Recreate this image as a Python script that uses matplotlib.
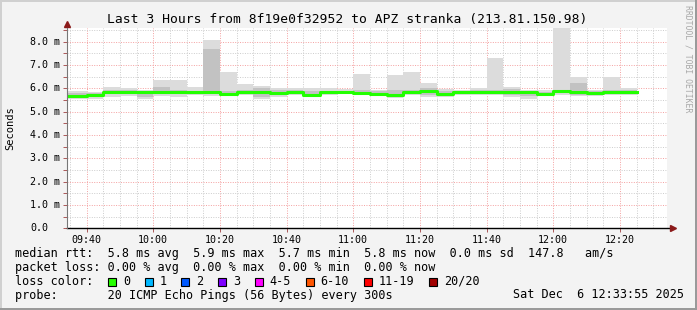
import numpy as np
import matplotlib
matplotlib.use("Agg")
import matplotlib.pyplot as plt
from matplotlib.patches import Rectangle
from matplotlib.ticker import MultipleLocator, FuncFormatter

# bar start times (minutes after midnight), 5 min step, 09:35 .. 12:20
start = 9 * 60 + 35
times = start + 5 * np.arange(34)

# median rtt per 5 min (ms)
median = [5.69, 5.74, 5.84, 5.85, 5.84, 5.85, 5.85, 5.84, 5.84, 5.78,
          5.84, 5.83, 5.81, 5.84, 5.71, 5.83, 5.84, 5.82, 5.77, 5.73,
          5.84, 5.88, 5.78, 5.83, 5.83, 5.83, 5.83, 5.83, 5.78, 5.88,
          5.84, 5.80, 5.83, 5.84]
# smoke: min / max of the pings
smoke_lo = [5.55, 5.55, 5.65, 5.69, 5.54, 5.68, 5.65, 5.70, 5.69, 5.70,
            5.74, 5.55, 5.65, 5.72, 5.66, 5.72, 5.75, 5.70, 5.70, 5.60,
            5.70, 5.62, 5.62, 5.74, 5.72, 5.70, 5.62, 5.55, 5.72, 5.74,
            5.66, 5.68, 5.74, 5.74]
smoke_hi = [5.91, 5.86, 6.06, 6.02, 5.94, 6.36, 6.36, 6.05, 8.08, 6.72,
            6.19, 6.10, 6.00, 6.00, 6.00, 6.00, 5.97, 6.62, 5.95, 6.58,
            6.72, 6.25, 5.97, 5.92, 6.00, 7.32, 6.08, 5.94, 5.94, 8.90,
            6.47, 5.94, 6.50, 6.00]
# denser inner part of the smoke
inner_lo = [5.62, 5.65, 5.75, 5.75, 5.62, 5.75, 5.75, 5.78, 5.76, 5.74,
            5.78, 5.62, 5.74, 5.78, 5.68, 5.77, 5.79, 5.75, 5.73, 5.66,
            5.76, 5.72, 5.70, 5.78, 5.76, 5.76, 5.72, 5.66, 5.74, 5.80,
            5.74, 5.72, 5.78, 5.78]
inner_hi = [5.80, 5.80, 5.95, 5.92, 5.88, 6.05, 5.92, 5.90, 7.69, 5.90,
            5.92, 6.00, 5.92, 5.92, 5.90, 5.90, 5.90, 5.92, 5.88, 5.92,
            5.95, 6.00, 5.90, 5.88, 5.92, 5.92, 5.98, 5.90, 5.86, 5.95,
            6.25, 5.88, 5.92, 5.95]

loss_labels = ["0", "1", "2", "3", "4-5", "6-10", "11-19", "20/20"]
loss_colors = ["#26ff00", "#00b8ff", "#0059ff", "#7e00ff", "#ff00ff",
               "#ff5500", "#ff0000", "#a10000"]

title = "Last 3 Hours from 8f19e0f32952 to APZ stranka (213.81.150.98)"
line_rtt = "median rtt:  5.8 ms avg  5.9 ms max  5.7 ms min  5.8 ms now  0.0 ms sd  147.8   am/s"
line_loss = "packet loss: 0.00 % avg  0.00 % max  0.00 % min  0.00 % now"
line_probe = "probe:       20 ICMP Echo Pings (56 Bytes) every 300s"
stamp = "Sat Dec  6 12:33:55 2025"

W, H = 697, 310
mono = "DejaVu Sans Mono"


def fx(x):
    return x / W


def fy(y):
    return 1 - y / H


fig = plt.figure(figsize=(W / 100, H / 100), dpi=100)
fig.patch.set_facecolor("#f3f3f3")

# frame
fig.patches.append(Rectangle((0, fy(2)), 1, 2 / H, transform=fig.transFigure, color="#d0d0d0", lw=0))
fig.patches.append(Rectangle((0, 0), 2 / W, 1, transform=fig.transFigure, color="#d0d0d0", lw=0))
fig.patches.append(Rectangle((0, 0), 1, 2 / H, transform=fig.transFigure, color="#9a9a9a", lw=0))
fig.patches.append(Rectangle((1 - 2 / W, 0), 2 / W, 1, transform=fig.transFigure, color="#9a9a9a", lw=0))

ax = fig.add_axes([fx(67), fy(228.3), fx(667) - fx(67), fy(28.3) - fy(228.3)])
ax.set_facecolor("white")

xmin = 9 * 60 + 34.15
xmax = xmin + 180
ymax = 8.58

edges = np.r_[xmin, times[1:], times[-1] + 5]


def ext(v):
    return np.r_[v, v[-1]]


ax.fill_between(edges, ext(smoke_lo), ext(smoke_hi), step="post", color="#dcdcdc", lw=0)
ax.fill_between(edges, ext(inner_lo), ext(inner_hi), step="post", color="#c2c2c2", lw=0)
ax.step(edges, ext(median), where="post", color="#555555", lw=0.8)
ax.step(edges, ext(median), where="post", color="#22ff00", lw=2.2)

ax.set_xlim(xmin, xmax)
ax.set_ylim(0, ymax)

# grid
for v in np.arange(xmin - xmin % 5 + 5, xmax, 5):
    major = v % 20 == 0
    ax.axvline(v, color="#f4a0a0" if major else "#cccccc", ls=(0, (1, 1.5)), lw=0.7, zorder=0.5)
for v in np.arange(0.5, ymax, 0.5):
    major = v % 1 == 0
    ax.axhline(v, color="#f4a0a0" if major else "#cccccc", ls=(0, (1, 1.5)), lw=0.7, zorder=0.5)

ax.xaxis.set_major_locator(MultipleLocator(20))
ax.xaxis.set_major_formatter(FuncFormatter(lambda v, p: "%02d:%02d" % (v // 60, v % 60)))
ax.yaxis.set_major_locator(MultipleLocator(0.5))
ax.yaxis.set_major_formatter(FuncFormatter(lambda v, p: ""))
ax.tick_params(axis="x", length=3, width=0.6, color="#a04040", labelsize=7.2, pad=2)
ax.tick_params(axis="y", length=3, width=0.6, color="#a04040")
for lab in ax.get_xticklabels():
    lab.set_fontfamily(mono)

for s in ["top", "right"]:
    ax.spines[s].set_visible(False)
ax.spines["left"].set_color("#777777")
ax.spines["left"].set_linewidth(0.8)
ax.spines["bottom"].set_visible(False)
ax.plot([0, 1.008], [0, 0], transform=ax.transAxes, color="black", lw=1, clip_on=False)
ax.plot([1.01], [0], transform=ax.transAxes, marker=">", color="#8b1a1a", ms=4, clip_on=False)
ax.plot([0], [1.02], transform=ax.transAxes, marker="^", color="#8b1a1a", ms=4, clip_on=False)

# y tick labels
for v in range(0, 9):
    txt = "%.1f" % v if v == 0 else "%.1f m" % v
    fig.text(fx(30), ax.transData.transform((0, v))[1] / (H), txt, ha="left", va="center",
             fontsize=7.2, family=mono)

fig.text(fx(10), fy(128), "Seconds", rotation=90, ha="center", va="center", fontsize=7.5, family=mono)
fig.text(fx(347.5), fy(19), title, ha="center", va="center", fontsize=9.4, family=mono)
fig.text(fx(688), fy(5), "RRDTOOL / TOBI OETIKER", rotation=270, ha="center", va="top",
         fontsize=5.9, family=mono, color="#a8a8a8")

fig.text(fx(15), fy(254), line_rtt, ha="left", va="center", fontsize=8.5, family=mono)
fig.text(fx(15), fy(267.5), line_loss, ha="left", va="center", fontsize=8.5, family=mono)
fig.text(fx(15), fy(281.5), "loss color:", ha="left", va="center", fontsize=8.5, family=mono)
fig.text(fx(15), fy(295), line_probe, ha="left", va="center", fontsize=8.5, family=mono)
fig.text(fx(513), fy(295), stamp, ha="left", va="center", fontsize=8.5, family=mono)

x = 108
for lab, col in zip(loss_labels, loss_colors):
    fig.patches.append(Rectangle((fx(x), fy(285.7)), 8 / W, 8 / H, transform=fig.transFigure,
                                 facecolor=col, edgecolor="black", lw=0.8))
    fig.text(fx(x + 15), fy(281.5), lab, ha="left", va="center", fontsize=8.5, family=mono)
    x = x + 15 + len(lab) * 7.15 + 14.5

fig.savefig("out.png", dpi=100, facecolor=fig.get_facecolor())
